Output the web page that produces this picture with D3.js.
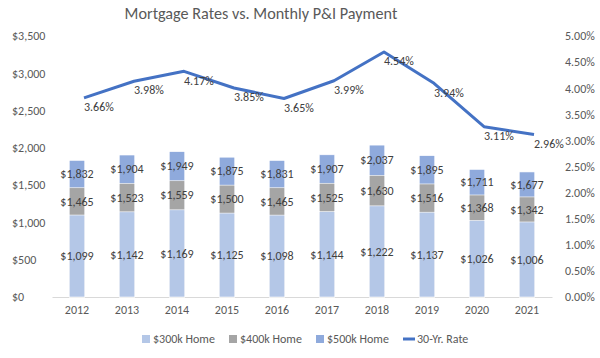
<!DOCTYPE html>
<html><head><meta charset="utf-8">
<script src="https://cdn.jsdelivr.net/npm/d3@7"></script>
<style>
html,body{margin:0;padding:0;background:#fff;}
text{font-family:Carlito,"Liberation Sans",Arial,sans-serif;}
</style></head>
<body><svg id="c" width="600" height="358"></svg>
<script>
const years = ["2012","2013","2014","2015","2016","2017","2018","2019","2020","2021"];
const home300 = [1099,1142,1169,1125,1098,1144,1222,1137,1026,1006];
const home400 = [1465,1523,1559,1500,1465,1525,1630,1516,1368,1342];
const home500 = [1832,1904,1949,1875,1831,1907,2037,1895,1711,1677];
const rates = [3.66,3.98,4.17,3.85,3.65,3.99,4.54,3.94,3.11,2.96];
const leftTicks = [0,500,1000,1500,2000,2500,3000,3500];
const rightTicks = [0,0.5,1,1.5,2,2.5,3,3.5,4,4.5,5];
const seriesNames = ["$300k Home","$400k Home","$500k Home","30-Yr. Rate"];
const colors = ["#B4C7E7","#A5A5A5","#8FAADC","#4472C4"];

const svg = d3.select("#c");
const x = d3.scaleBand().domain(years).range([52,552]).paddingInner(0.69).paddingOuter(0.345);
const y = d3.scaleLinear().domain([0,3500]).range([297,36]);
const yR = d3.scaleLinear().domain([0,5]).range([297,36]);
const axisCol = "#595959", labCol = "#404040";
const fs = 12;

svg.append("text").attr("x",261).attr("y",19).attr("text-anchor","middle")
  .attr("font-size",16.2).attr("fill",axisCol).text("Mortgage Rates vs. Monthly P&I Payment");

const la = d3.axisLeft(y).tickValues(leftTicks).tickFormat(d=>"$"+d3.format(",")(d)).tickSize(0);
const gl = svg.append("g").attr("transform","translate(12,0)").call(la);
gl.select(".domain").remove();
gl.attr("font-family",null);
gl.selectAll("text").attr("text-anchor","start").attr("x",0).attr("dy","0.32em").attr("font-size",fs).attr("fill",axisCol);

const ra = d3.axisRight(yR).tickValues(rightTicks).tickFormat(d=>d3.format(".2f")(d)+"%").tickSize(0);
const gr = svg.append("g").attr("transform","translate(565,0)").call(ra);
gr.select(".domain").remove();
gr.attr("font-family",null);
gr.selectAll("text").attr("x",0).attr("dy","0.32em").attr("font-size",fs).attr("fill",axisCol);

const xa = d3.axisBottom(x).tickSize(0);
const gx = svg.append("g").attr("transform","translate(0,297)").call(xa);
gx.attr("font-family",null);
gx.select(".domain").attr("stroke","#D9D9D9").attr("stroke-width",1);
gx.selectAll("text").attr("y",8).attr("dy","0.71em").attr("font-size",fs).attr("fill",axisCol);

const bw = x.bandwidth();
const barSets = [[home500,colors[2]],[home400,colors[1]],[home300,colors[0]]];
barSets.forEach(([vals,col])=>{
  svg.append("g").selectAll("rect").data(years).join("rect")
    .attr("x",d=>x(d)).attr("width",bw)
    .attr("y",(d,i)=>y(vals[i])).attr("height",(d,i)=>y(0)-y(vals[i]))
    .attr("fill",col).attr("stroke","#fff").attr("stroke-width",0.6);
});
const fmt = d=>"$"+d3.format(",")(d);
const lab = svg.append("g").attr("font-size",fs).attr("fill",labCol).attr("text-anchor","middle");
years.forEach((yr,i)=>{
  const cx = x(yr)+bw/2;
  [[0,home300[i],home300[i]],[home300[i],home400[i],home400[i]],[home400[i],home500[i],home500[i]]].forEach(([a,b,v])=>{
    lab.append("text").attr("x",cx).attr("y",y((a+b)/2)).attr("dy","0.35em").text(fmt(v));
  });
});

const line = d3.line().x((d,i)=>x(years[i])+bw/2).y(d=>yR(d));
svg.append("path").datum(rates).attr("d",line).attr("fill","none")
  .attr("stroke",colors[3]).attr("stroke-width",3).attr("stroke-linejoin","round")
  .attr("transform","translate(7,-8)");
const rl = svg.append("g").attr("font-size",fs).attr("fill",labCol);
rates.forEach((r,i)=>{
  rl.append("text").attr("x",x(years[i])+bw/2+7).attr("y",yR(r)+1).attr("dy","0.35em").text(d3.format(".2f")(r)+"%");
});

const legX = [142,229,316,403];
const lg = svg.append("g").attr("font-size",fs).attr("fill",axisCol);
seriesNames.forEach((n,i)=>{
  if(i<3){
    lg.append("rect").attr("x",legX[i]).attr("y",335).attr("width",8).attr("height",8).attr("fill",colors[i]);
    lg.append("text").attr("x",legX[i]+11).attr("y",339).attr("dy","0.35em").text(n);
  } else {
    lg.append("line").attr("x1",legX[i]).attr("x2",legX[i]+12).attr("y1",339).attr("y2",339).attr("stroke",colors[i]).attr("stroke-width",3);
    lg.append("text").attr("x",legX[i]+14).attr("y",339).attr("dy","0.35em").text(n);
  }
});
</script></body></html>
